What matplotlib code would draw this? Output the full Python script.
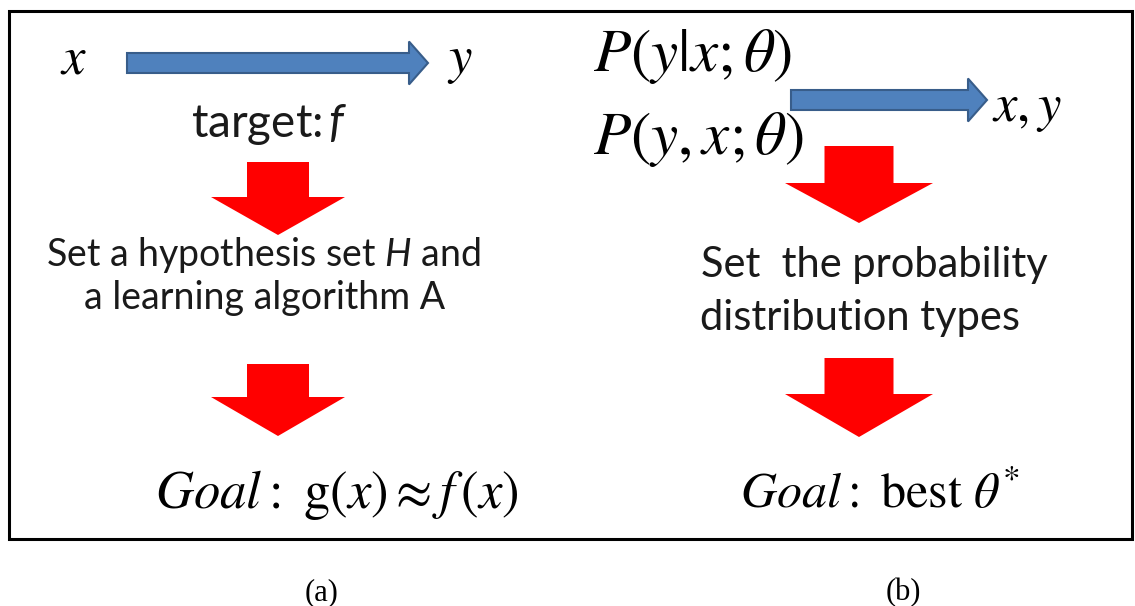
import matplotlib.pyplot as plt
from matplotlib.patches import Polygon, Rectangle

plt.rcParams['mathtext.fontset'] = 'custom'
plt.rcParams['mathtext.rm'] = 'Lato'
plt.rcParams['mathtext.it'] = 'Lato:italic'

# texts of the two panels
left_top = ["$x$", "$y$"]
left_target = "target:$\\,\\mathit{f}$"
left_step = ["Set a hypothesis set $\\mathit{H}$ and", "a learning algorithm A"]
left_goal = r"$\mathit{Goal}:\ \mathrm{g}(x)\approx f\,(x)$"
right_top = [r"$P(y|x;\theta)$", r"$P(y,x;\theta)$", r"$x,y$"]
right_step = ["Set  the probability", "distribution types"]
right_goal = r"$\mathit{Goal}:\ \mathrm{best}\ \theta^{*}$"
captions = ["(a)", "(b)"]

W, H = 1135, 606
fig = plt.figure(figsize=(W / 100, H / 100), dpi=100)
ax = fig.add_axes([0, 0, 1, 1])
ax.set_xlim(0, W)
ax.set_ylim(H, 0)
ax.axis('off')

# frame
ax.add_patch(Rectangle((9, 11), 1123, 528, fill=False, lw=2.2, ec='black'))


def blue_arrow(x0, x1, yc, shaft=20, head=43, hl=19):
    pts = [(x0, yc - shaft / 2), (x1 - hl, yc - shaft / 2), (x1 - hl, yc - head / 2),
           (x1, yc), (x1 - hl, yc + head / 2), (x1 - hl, yc + shaft / 2), (x0, yc + shaft / 2)]
    ax.add_patch(Polygon(pts, closed=True, fc='#4F81BD', ec='#385D8A', lw=1.5))


def red_arrow(cx, top, sw, hy, hw, tip):
    pts = [(cx - sw / 2, top), (cx + sw / 2, top), (cx + sw / 2, hy), (cx + hw / 2, hy),
           (cx, tip), (cx - hw / 2, hy), (cx - sw / 2, hy)]
    ax.add_patch(Polygon(pts, closed=True, fc='#FF0000', ec='none'))


serif = 'stix'
sans = 'Lato'

# left panel
ax.text(74, 73, left_top[0], fontsize=38, ha='center', va='baseline', math_fontfamily=serif)
ax.text(460, 73, left_top[1], fontsize=38, ha='center', va='baseline', math_fontfamily=serif)
blue_arrow(127, 428, 63)
ax.text(269, 137, left_target, fontsize=33, ha='center', va='baseline', family=sans,
        math_fontfamily='custom', color='#1a1a1a')
red_arrow(278, 162, 62, 197, 134, 235)
ax.text(263, 266, left_step[0], fontsize=27, ha='center', va='baseline', family=sans,
        math_fontfamily='custom', color='#1a1a1a')
ax.text(265, 309, left_step[1], fontsize=27, ha='center', va='baseline', family=sans,
        color='#1a1a1a')
red_arrow(278, 364, 62, 397, 134, 436)
ax.text(337, 508, left_goal, fontsize=38, ha='center', va='baseline', math_fontfamily=serif)

# right panel
ax.text(593, 71, right_top[0], fontsize=44, ha='left', va='baseline', math_fontfamily=serif)
ax.text(593, 154, right_top[1], fontsize=44, ha='left', va='baseline', math_fontfamily=serif)
blue_arrow(791, 987, 100)
ax.text(992, 121, right_top[2], fontsize=38, ha='left', va='baseline', math_fontfamily=serif)
red_arrow(859, 146, 69, 183, 148, 223)
ax.text(874, 277, right_step[0], fontsize=30, ha='center', va='baseline', family=sans,
        color='#1a1a1a')
ax.text(860, 330, right_step[1], fontsize=30, ha='center', va='baseline', family=sans,
        color='#1a1a1a')
red_arrow(859, 358, 69, 394, 148, 437)
ax.text(880, 508, right_goal, fontsize=36, ha='center', va='baseline', math_fontfamily=serif)

# captions
ax.text(322, 600, captions[0], fontsize=22, ha='center', va='baseline', family='Liberation Serif')
ax.text(903, 600, captions[1], fontsize=22, ha='center', va='baseline', family='Liberation Serif')

fig.savefig('out.png', dpi=100)
